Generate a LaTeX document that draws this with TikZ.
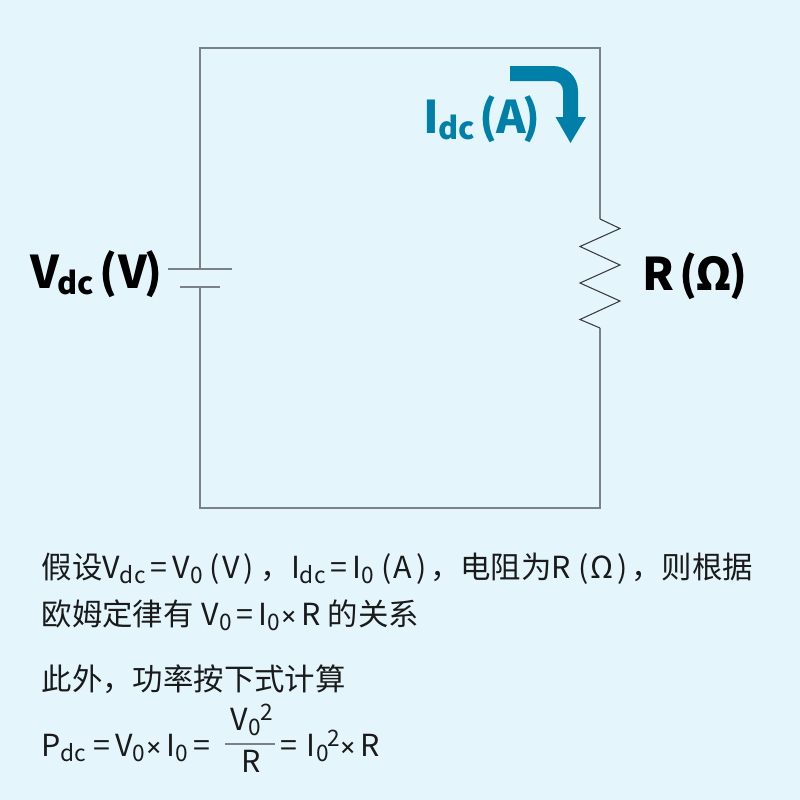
\documentclass[tikz,border=0pt]{standalone}
\usepackage{fontspec}
\setmainfont{Noto Sans CJK SC}
\definecolor{panelbg}{RGB}{228,246,252}
\definecolor{wiregray}{RGB}{122,130,136}
\definecolor{flowteal}{RGB}{0,128,168}
\definecolor{inkdark}{RGB}{26,26,26}
\newcommand{\headsub}[1]{\raisebox{-4.5pt}{\fontsize{23}{23}\selectfont #1}}
\newcommand{\bodysub}[1]{\raisebox{-4pt}{\fontsize{17}{17}\selectfont #1}}
\newcommand{\bodysup}[1]{\raisebox{7.5pt}{\fontsize{17}{17}\selectfont #1}}
\newcommand{\timesmark}{\hspace{0.5pt}\raisebox{1.5pt}{\fontsize{13}{13}\selectfont\bfseries ×}\hspace{1pt}}
\newcommand{\openp}{\hspace{5.5pt}(\hspace{1.5pt}}
\newcommand{\closep}{\hspace{3pt})\hspace{5pt}}
\tikzset{every picture/.style={line width=1pt},
  headtext/.style={inner sep=0pt,anchor=base west,font=\fontsize{33.75}{33.75}\selectfont\bfseries},
  bodytext/.style={inner sep=0pt,anchor=base west,text=inkdark,font=\fontsize{22.8}{22.8}\selectfont},
  wire/.style={draw=wiregray},
  resistorline/.style={draw=inkdark!85,line width=0.8pt,line join=miter}}

\begin{document}
\begin{tikzpicture}[x=0.75pt,y=0.75pt,yscale=-1,xscale=1]
	%Background
	\fill[panelbg] (0,0) rectangle (800,800);
	\useasboundingbox (0,0) rectangle (800,800);

	%Circuit corners
	\coordinate (topleft) at (200,48);
	\coordinate (topright) at (600,48);
	\coordinate (botleft) at (200,508);
	\coordinate (botright) at (600,508);
	\coordinate (resin) at (600,219);
	\coordinate (resout) at (600,328);
	\coordinate (platetop) at (200,269);
	\coordinate (platebot) at (200,287);

	%Wires
	\draw[wire] (platetop) -- (topleft) -- (topright) -- (resin);
	\draw[wire] (resout) -- (botright) -- (botleft) -- (platebot);
	%Battery plates
	\draw[wire] (168,269) -- (232,269);
	\draw[wire] (180,287) -- (220,287);
	%Resistor
	\draw[resistorline] (resin) -- (620,228.5) -- (580,246.5) -- (620,265) -- (580,283) -- (620,301) -- (580,319.5) -- (resout);

	%Current arrow
	\fill[flowteal] (510,66) -- (553,66) .. controls (567,66) and (578,77) .. (578,91) -- (578,117) -- (586,117) -- (570.5,143) -- (555.5,117) -- (563,117) -- (563,91) .. controls (563,85) and (559,81) .. (553,81) -- (510,81) -- cycle;

	% Text Node
	\node[headtext,text=black] (vlabel) at (29.5,288) {V\hspace{-1pt}\headsub{dc}\hspace{3.5pt}(\hspace{1pt}V\hspace{-2.5pt})};
	% Text Node
	\node[headtext,text=flowteal] (ilabel) at (422.5,133) {I\hspace{-0.5pt}\headsub{dc}\hspace{3.5pt}(\hspace{-1pt}A\hspace{-2.5pt})};
	% Text Node
	\node[headtext,text=black] (rlabel) at (642,290) {R\hspace{3.5pt}(\hspace{-1pt}Ω\hspace{-2.25pt})};

	% Text Node
	\node[bodytext] (lineone) at (41,578) {假设V\bodysub{dc}\,=\,V\bodysub{0}\openp V\closep，I\bodysub{dc}\,=\,I\bodysub{0}\openp A\closep\hspace{-2.25pt}，电阻为R\openp Ω\closep\hspace{-2.25pt}，则根据};
	% Text Node
	\node[bodytext] (linetwo) at (41,625) {欧姆定律有\hspace{6pt}V\bodysub{0}\,=\,I\bodysub{0}\timesmark\hspace{1.5pt}R 的关系};
	% Text Node
	\node[bodytext] (linethree) at (41,690) {此外，功率按下式计算};
	% Text Node
	\node[bodytext] (powerleft) at (41,756) {P\bodysub{dc}\hspace{5pt}=\,V\bodysub{0}\timesmark\hspace{1.5pt}I\bodysub{0}\,=};
	% Text Node
	\node[bodytext] (fractop) at (230,730) {V\bodysub{0}\bodysup{2}};
	% Text Node
	\node[bodytext] (fracbot) at (241,772) {R};
	%Fraction bar
	\draw[wire] (225,744) -- (275,744);
	% Text Node
	\node[bodytext] (powerright) at (280,756) {=\hspace{6.5pt}I\hspace{1pt}\bodysub{0}\hspace{-1pt}\bodysup{2}\hspace{-1pt}\timesmark\hspace{1.5pt}R};

\end{tikzpicture}
\end{document}
